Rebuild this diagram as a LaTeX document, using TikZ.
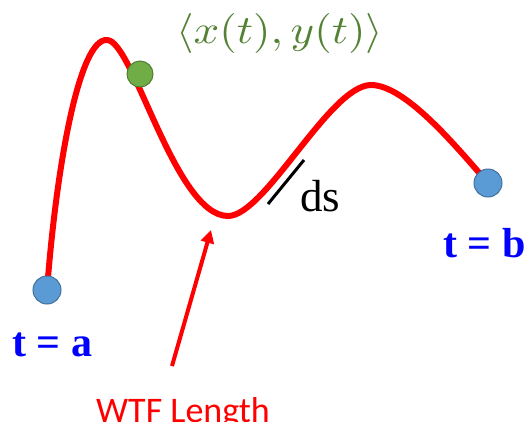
\documentclass[tikz,border=0pt]{standalone}
\usepackage{fontspec}
\setmainfont{Liberation Serif}
\newfontfamily\carl{Carlito}
\usetikzlibrary{arrows.meta}
\definecolor{curvered}{HTML}{FF0000}
\definecolor{dotblue}{HTML}{5B9BD5}
\definecolor{dotblueedge}{HTML}{41719C}
\definecolor{dotgreen}{HTML}{70AD47}
\definecolor{dotgreenedge}{HTML}{507E32}
\definecolor{textgreen}{HTML}{548235}
\definecolor{textblue}{HTML}{0000FF}
\tikzset{
  bluedot/.style={circle, inner sep=0pt, minimum size=28pt, fill=dotblue, draw=dotblueedge, line width=1pt},
  greendot/.style={circle, inner sep=0pt, minimum size=26pt, fill=dotgreen, draw=dotgreenedge, line width=1pt},
  curveline/.style={draw=curvered, line width=6pt},
  dsline/.style={draw=black, line width=3pt},
  redarrow/.style={draw=curvered, line width=4pt, -{Triangle[width=13pt,length=13pt]}},
  lbl/.style={inner sep=0pt, anchor=base west}
}
\begin{document}
\begin{tikzpicture}[x=1pt,y=-1pt]
\useasboundingbox (0,0) rectangle (530,421);
\coordinate (pa) at (47,290);
\coordinate (pb) at (488,183);
\coordinate (pg) at (140,74);
\coordinate (ds1) at (268,204);
\coordinate (ds2) at (304,160);
\coordinate (tail) at (172,366);
\coordinate (tip) at (211,230);
% curve
\draw[curveline] (pa) .. controls (57,160) and (80,38) .. (107,40)
  .. controls (133,40) and (175,216) .. (228,216)
  .. controls (265,216) and (330,85) .. (371,85)
  .. controls (405,85) and (455,145) .. (pb);
% ds segment
\draw[dsline] (ds1) -- (ds2);
% arrow
\draw[redarrow] (tail) -- (tip);
% dots
\node[bluedot] (a) at (pa) {};
\node[bluedot] (b) at (pb) {};
\node[greendot] (g) at (pg) {};
% labels
\node[lbl, text=textblue] (ta) at (12,356) {\fontsize{42}{48}\selectfont\bfseries t = a};
\node[lbl, text=textblue] (tb) at (443,257) {\fontsize{42}{48}\selectfont\bfseries t = b};
\node[lbl, text=black] (ds) at (300,211) {\fontsize{45}{52}\selectfont ds};
\node[lbl, text=textgreen] (xy) at (176,43) {\scalebox{4.5}[4.0]{$\langle x(t), y(t)\rangle$}};
\node[lbl, text=curvered] (wtf) at (96,422) {\carl\fontsize{36}{42}\selectfont WTF Length};
\end{tikzpicture}
\end{document}
